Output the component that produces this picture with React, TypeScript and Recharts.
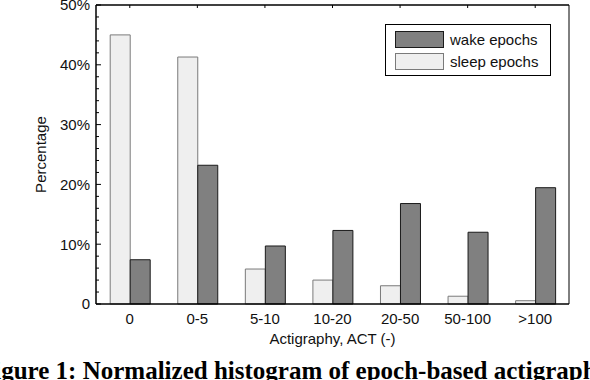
import React from 'react';
import { BarChart, Bar, XAxis, YAxis, Legend, Label } from 'recharts';

const categories = ['0', '0-5', '5-10', '10-20', '20-50', '50-100', '>100'];
const sleepEpochs = [45.0, 41.3, 5.85, 4.0, 3.05, 1.3, 0.55];
const wakeEpochs = [7.4, 23.2, 9.7, 12.3, 16.8, 12.0, 19.45];
const yTicks = [0, 2, 4, 6, 8, 10, 12, 14, 16, 18, 20, 22, 24, 26, 28, 30, 32, 34, 36, 38, 40, 42, 44, 46, 48, 50];
const legendOrder = [
  { key: 'wake', name: 'wake epochs', fill: '#808080', stroke: '#1a1a1a' },
  { key: 'sleep', name: 'sleep epochs', fill: '#efefef', stroke: '#7a7a7a' },
];

const data = categories.map((c, i) => ({ cat: c, sleep: sleepEpochs[i], wake: wakeEpochs[i] }));

const FONT = '"Liberation Sans", Arial, Helvetica, sans-serif';

const LeftTick = (props: any) => {
  const { x, y, payload } = props;
  const v = payload.value;
  const major = v % 10 === 0;
  return (
    <g>
      <line x1={x} x2={x + (major ? 5 : 3)} y1={y} y2={y} stroke="#000" strokeWidth={1} />
      {major && (
        <text x={x - 6} y={y} dy="0.36em" textAnchor="end" fontSize={15} fill="#111" fontFamily={FONT}>
          {v === 0 ? '0' : `${v}%`}
        </text>
      )}
    </g>
  );
};

const RightTick = (props: any) => {
  const { x, y, payload } = props;
  const major = payload.value % 10 === 0;
  return <line x1={x - (major ? 4 : 2)} x2={x + (major ? 1 : 0)} y1={y} y2={y} stroke="#000" strokeWidth={1} />;
};

const TopTick = (props: any) => {
  const { x, y } = props;
  return <line x1={x} x2={x} y1={y} y2={y + 3} stroke="#000" strokeWidth={1} />;
};

const LegendBox = () => (
  <div
    style={{
      width: 166,
      height: 52,
      boxSizing: 'border-box',
      border: '1.5px solid #000',
      background: '#fff',
      padding: '3px 0 0 9px',
      fontFamily: FONT,
      fontSize: 15,
      color: '#111',
    }}
  >
    {legendOrder.map((s) => (
      <div key={s.key} style={{ display: 'flex', alignItems: 'center', height: 22.5 }}>
        <div
          style={{
            width: 49,
            height: 17,
            boxSizing: 'border-box',
            background: s.fill,
            border: `1px solid ${s.stroke}`,
            marginRight: 6,
          }}
        />
        <span style={{ lineHeight: '17px' }}>{s.name}</span>
      </div>
    ))}
  </div>
);

export default function App() {
  return (
    <div style={{ position: 'absolute', left: 0, top: 0, width: 590, height: 380, background: '#fff', overflow: 'hidden', fontFamily: FONT }}>
      <BarChart
        width={590}
        height={380}
        data={data}
        margin={{ top: 0, right: 0, bottom: 26, left: 0 }}
        barCategoryGap="21%"
        barGap={0}
      >
        <XAxis
          xAxisId="top"
          orientation="top"
          dataKey="cat"
          height={5}
          tick={<TopTick />}
          tickLine={false}
          tickSize={0}
          tickMargin={0}
          interval={0}
          axisLine={{ stroke: '#000', strokeWidth: 1.5 }}
        />
        <XAxis
          dataKey="cat"
          height={50}
          tickSize={0}
          tickMargin={9}
          tickLine={false}
          interval={0}
          tick={{ fill: '#111', fontSize: 15, fontFamily: FONT }}
          axisLine={{ stroke: '#000', strokeWidth: 1.5 }}
        >
          <Label
            content={(p: any) => {
              const vb = p.viewBox;
              return (
                <text x={vb.x + vb.width / 2} y={vb.y + 40} textAnchor="middle" fontSize={15} fill="#111" fontFamily={FONT}>
                  Actigraphy, ACT (-)
                </text>
              );
            }}
          />
        </XAxis>
        <YAxis
          domain={[0, 50]}
          ticks={yTicks}
          width={96}
          interval={0}
          tick={<LeftTick />}
          tickLine={false}
          tickSize={0}
          tickMargin={0}
          axisLine={{ stroke: '#000', strokeWidth: 1.5 }}
        >
          <Label
            content={(p: any) => {
              const vb = p.viewBox;
              const cx = vb.x + 40;
              const cy = vb.y + vb.height / 2;
              return (
                <text
                  x={cx}
                  y={cy}
                  transform={`rotate(-90, ${cx}, ${cy})`}
                  textAnchor="middle"
                  dominantBaseline="central"
                  fontSize={15}
                  fill="#111"
                  fontFamily={FONT}
                >
                  Percentage
                </text>
              );
            }}
          />
        </YAxis>
        <YAxis
          yAxisId="right"
          orientation="right"
          domain={[0, 50]}
          ticks={yTicks}
          width={21}
          interval={0}
          tick={<RightTick />}
          tickLine={false}
          tickSize={0}
          tickMargin={0}
          axisLine={{ stroke: '#000', strokeWidth: 1 }}
        />
        <Legend
          layout="vertical"
          align="center"
          verticalAlign="middle"
          content={<LegendBox />}
          wrapperStyle={{ position: 'absolute', left: 385, top: 24, width: 166, height: 52 }}
        />
        <Bar dataKey="sleep" name="sleep epochs" fill="#efefef" stroke="#7a7a7a" strokeWidth={1} isAnimationActive={false} />
        <Bar dataKey="wake" name="wake epochs" fill="#808080" stroke="#1a1a1a" strokeWidth={1} isAnimationActive={false} />
      </BarChart>
      <div
        style={{
          position: 'absolute',
          left: -21,
          top: 358,
          whiteSpace: 'nowrap',
          fontFamily: '"Liberation Serif", "Times New Roman", serif',
          fontWeight: 'bold',
          fontSize: 25,
          lineHeight: '25px',
          color: '#000',
        }}
      >
        Figure 1: Normalized histogram of epoch-based actigraphy
      </div>
    </div>
  );
}
